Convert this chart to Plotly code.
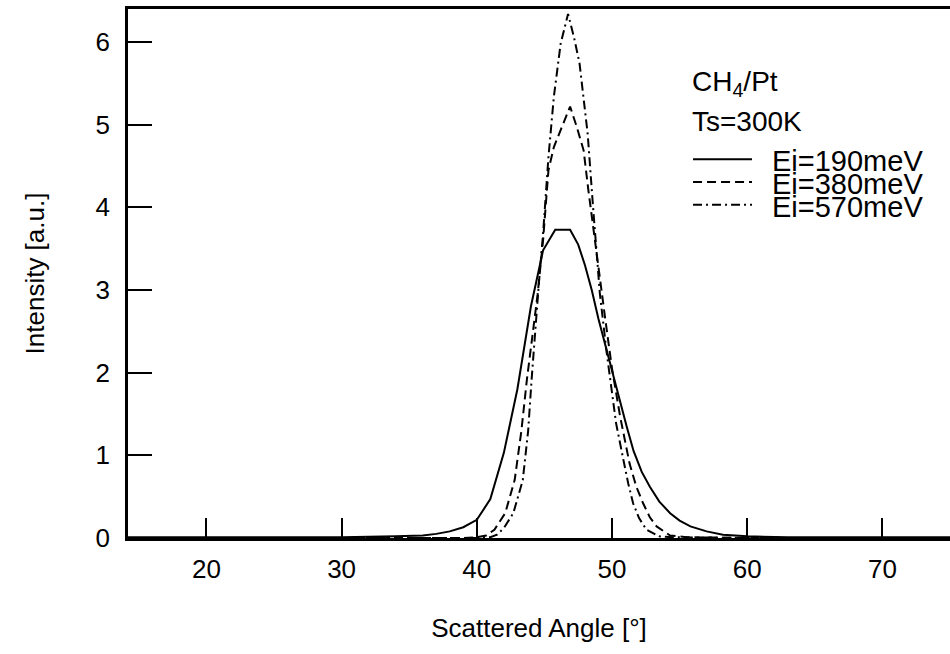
import plotly.graph_objects as go

# ---- data ----
angle_190 = [14.2, 20, 25, 30, 34, 36, 37, 38, 39, 40, 41, 42, 43, 44, 44.9, 45.8,
             46.9, 47.5, 48, 48.5, 49, 49.6, 50.1, 50.6, 51.1, 51.6, 52.2, 52.8,
             53.5, 54.3, 55, 55.8, 57, 58.2, 60, 63, 67, 75]
int_190 = [0.01, 0.01, 0.01, 0.01, 0.02, 0.03, 0.05, 0.08, 0.13, 0.22, 0.47, 1.03,
           1.8, 2.8, 3.48, 3.73, 3.73, 3.55, 3.3, 3.0, 2.65, 2.27, 1.95, 1.63,
           1.34, 1.05, 0.8, 0.62, 0.44, 0.3, 0.21, 0.14, 0.08, 0.04, 0.02, 0.01,
           0.01, 0.01]

angle_380 = [14.2, 25, 35, 39, 40, 40.7, 41.3, 42.1, 42.8, 43.3, 43.7, 44.1, 44.5,
             44.9, 45.3, 45.7, 46.3, 46.9, 47.4, 47.9, 48.25, 48.6, 49.0, 49.5,
             50.0, 50.6, 51.3, 51.8, 52.3, 52.8, 53.3, 54.3, 55.5, 60, 75]
int_380 = [0.0, 0.0, 0.0, 0.0, 0.01, 0.03, 0.1, 0.3, 0.7, 1.3, 1.91, 2.45, 2.95,
           3.6, 4.45, 4.73, 4.97, 5.22, 4.97, 4.69, 4.21, 3.76, 3.28, 2.65,
           2.05, 1.47, 0.9, 0.62, 0.42, 0.25, 0.14, 0.03, 0.01, 0.0, 0.0]

angle_570 = [14.2, 25, 35, 40, 41, 41.5, 42.0, 42.7, 43.4, 43.8, 44.05, 44.3, 44.6,
             44.9, 45.3, 45.7, 46.2, 46.75, 47.2, 47.6, 48.2, 48.6, 49.1, 49.6,
             50.3, 50.8, 51.2, 51.56, 52.0, 52.55, 53.5, 54.5, 60, 75]
int_570 = [0.0, 0.0, 0.0, 0.0, 0.01, 0.04, 0.12, 0.3, 0.7, 1.3, 1.91, 2.5, 3.1,
           3.68, 4.61, 5.34, 5.98, 6.34, 6.05, 5.74, 4.89, 4.0, 2.96, 2.25,
           1.39, 0.98, 0.66, 0.42, 0.24, 0.1, 0.02, 0.01, 0.0, 0.0]

series_names = ["Ei=190meV", "Ei=380meV", "Ei=570meV"]
legend_title_lines = ["CH<sub>4</sub>/Pt", "Ts=300K"]

x_ticks = [20, 30, 40, 50, 60, 70]
y_ticks = [0, 1, 2, 3, 4, 5, 6]

FONT = "Liberation Sans, Arial, Helvetica, sans-serif"
dash_styles = ["solid", "9px,5px", "9px,4px,2px,4px"]

fig = go.Figure()
for xs, ys, name, dash in zip([angle_190, angle_380, angle_570],
                              [int_190, int_380, int_570],
                              series_names, dash_styles):
    fig.add_trace(go.Scatter(x=xs, y=ys, mode="lines", name=name,
                             line=dict(color="black", width=2, dash=dash),
                             showlegend=False))

# legend drawn as text + short line keys (paper coordinates)
leg_text_x_left = 0.6837
leg_key_x0, leg_key_x1 = 0.6874, 0.7591
leg_item_x = 0.781
title_y = [0.860, 0.788]
item_y = [0.712, 0.669, 0.626]

for txt, yy in zip(legend_title_lines, title_y):
    fig.add_annotation(x=leg_text_x_left, y=yy, xref="paper", yref="paper",
                       text=txt, showarrow=False, xanchor="left", yanchor="middle",
                       font=dict(family=FONT, size=28, color="black"))
for name, dash, yy in zip(series_names, dash_styles, item_y):
    fig.add_annotation(x=leg_item_x, y=yy, xref="paper", yref="paper",
                       text=name, showarrow=False, xanchor="left", yanchor="middle",
                       font=dict(family=FONT, size=29, color="black"))
    fig.add_shape(type="line", xref="paper", yref="paper",
                  x0=leg_key_x0, x1=leg_key_x1, y0=yy + 0.004, y1=yy + 0.004,
                  line=dict(color="black", width=2, dash=dash))

fig.update_layout(
    width=950, height=654,
    margin=dict(l=128, r=0, t=9, b=116),
    paper_bgcolor="white", plot_bgcolor="white",
    font=dict(family=FONT, size=26, color="black"),
)
fig.update_xaxes(
    range=[14.2, 75], tickvals=x_ticks, ticks="inside", ticklen=20, tickwidth=2,
    tickcolor="black", showline=True, linecolor="black", linewidth=2.5, mirror=True,
    showgrid=False, zeroline=False, ticklabelstandoff=6,
    tickfont=dict(size=26),
    title=dict(text="Scattered Angle [°]", font=dict(size=26), standoff=36),
)
fig.update_yaxes(
    range=[0, 6.4], tickvals=y_ticks, ticks="inside", ticklen=24, tickwidth=2,
    tickcolor="black", showline=True, linecolor="black", linewidth=2.5, mirror=False,
    showgrid=False, zeroline=False, ticklabelstandoff=10,
    tickfont=dict(size=26),
    title=dict(text="Intensity [a.u.]", font=dict(size=26), standoff=44),
)

# remove the default 8px page margin so the figure fills the 950x654 window
fig.write_html(
    "out.html",
    config={"displayModeBar": False},
    post_script="document.body.style.margin='0';document.body.style.overflow='hidden';",
)
